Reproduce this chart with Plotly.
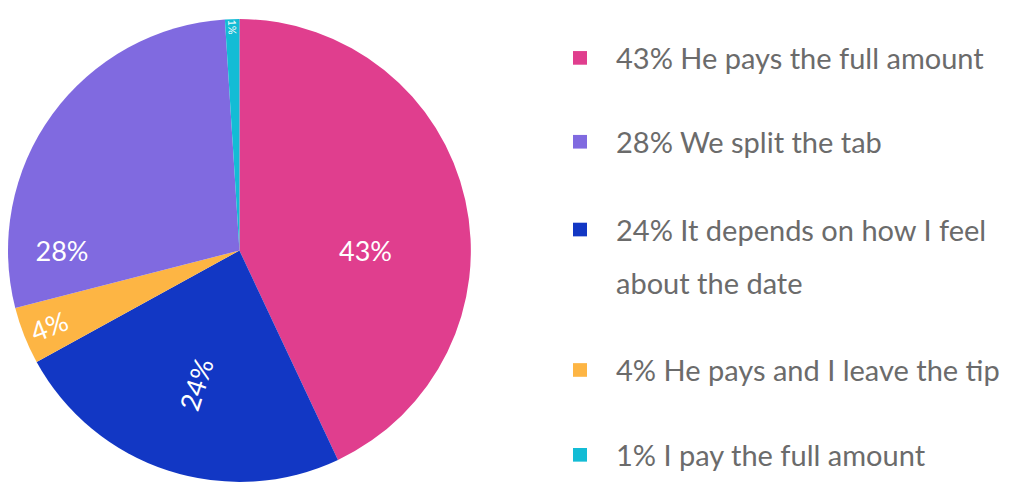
import plotly.graph_objects as go

labels = ["He pays the full amount", "It depends on how I feel about the date",
          "He pays and I leave the tip", "We split the tab", "I pay the full amount"]
values = [43, 24, 4, 28, 1]
colors = ["#E03E8E", "#1237C4", "#FDB544", "#806AE0", "#13BCD5"]

legend_order = [0, 3, 1, 2, 4]
legend_lines = [["43% He pays the full amount"], ["28% We split the tab"],
                ["24% It depends on how I feel", "about the date"],
                ["4% He pays and I leave the tip"], ["1% I pay the full amount"]]
legend_y_px = [45, 131, 221, 365, 452]

fig = go.Figure(go.Pie(
    labels=labels, values=values, sort=False, direction="clockwise", rotation=0,
    marker=dict(colors=colors), texttemplate="%{value}%", textposition="inside",
    insidetextorientation="radial", textfont=dict(color="white", size=27, family="Lato"),
    showlegend=False, domain=dict(x=[0, 0.452], y=[0, 1]), hoverinfo="label+percent"))

shapes, anns = [], []
for i, lines, ypx in zip(legend_order, legend_lines, legend_y_px):
    yp = 1 - ypx / 485
    shapes.append(dict(type="rect", xref="paper", yref="paper",
                       x0=565/1024, x1=579/1024, y0=yp - 7/485, y1=yp + 7/485,
                       fillcolor=colors[i], line=dict(width=0)))
    for j, t in enumerate(lines):
        anns.append(dict(x=606/1024, y=yp - j * 54/485, xref="paper", yref="paper", text=t,
                         showarrow=False, xanchor="left", yanchor="middle", align="left",
                         font=dict(size=29, color="#6b6b6b", family="Lato")))

fig.update_layout(width=1024, height=485, margin=dict(l=0, r=0, t=6, b=6),
                  paper_bgcolor="white", shapes=shapes, annotations=anns)
fig.write_html("out.html")
